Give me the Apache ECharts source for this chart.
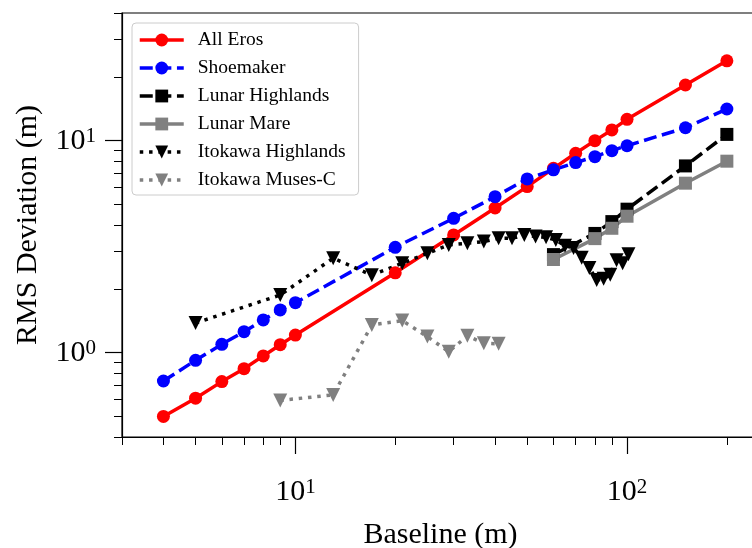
<!DOCTYPE html>
<html><head><meta charset="utf-8">
<script src="https://cdn.jsdelivr.net/npm/echarts@6/dist/echarts.min.js"></script>
<style>html,body{margin:0;padding:0;background:#fff}#c{width:752px;height:548px}</style>
</head><body><div id="c"></div>
<script>
// ---- data ----
const erosBaseline = [4,5,6,7,8,9,10,20,30,40,50,60,70,80,90,100,150,200];
const allEros   = [0.50,0.61,0.73,0.84,0.965,1.09,1.21,2.38,3.59,4.81,6.07,7.4,8.72,10.0,11.23,12.6,18.3,23.8];
const shoemaker = [0.735,0.92,1.095,1.256,1.426,1.59,1.72,3.14,4.30,5.44,6.6,7.28,7.88,8.4,8.97,9.46,11.5,14.1];
const lunarBaseline = [60,80,90,100,150,200];
const lunarHighlands = [2.9,3.65,4.15,4.75,7.6,10.7];
const lunarMare      = [2.75,3.45,3.86,4.4,6.3,8.0];
const itoHighBaseline = [5,9,13,17,21,25,29,33,37,41,45,49,53,57,61,65,69,73,77,81,85,89,93,97,101];
const itoHighlands = [1.38,1.87,2.79,2.32,2.64,2.94,3.22,3.28,3.34,3.46,3.46,3.59,3.53,3.5,3.40,3.19,3.12,2.80,2.51,2.20,2.23,2.33,2.73,2.64,2.91];
const itoMusesBaseline = [9,13,17,21,25,29,33,37,41];
const itoMuses = [0.595,0.632,1.35,1.416,1.19,1.01,1.2,1.107,1.10];
const xMajorTicks = [10,100];
const xMinorTicks = [3,4,5,6,7,8,9,20,30,40,50,60,70,80,90,200];
const yMajorTicks = [1,10];
const yMinorTicks = [0.4,0.5,0.6,0.7,0.8,0.9,2,3,4,5,6,7,8,9,20,30,40];

const FONT = '"Liberation Serif","Times New Roman",serif';
const pairs = (xs, ys) => xs.map((x, i) => [x, ys[i]]);
const sup = v => '{a|10}{s|' + Math.round(Math.log10(v)) + '}';
const rich = {
  a: {fontFamily: FONT, fontSize: 30, lineHeight: 30, color: '#000', verticalAlign: 'bottom', padding: [12,0,0,0]},
  s: {fontFamily: FONT, fontSize: 21, lineHeight: 21, color: '#000', verticalAlign: 'top'}
};
const LW = 3.5;
const DASH = [13, 5.6];
const DOT = [3.5, 5.8];

function axisPair(kind, min, max, major, minor, name, nameGap, labelMargin) {
  const base = {
    type: 'log', logBase: 10, min: min, max: max,
    splitLine: {show: false}, minorTick: {show: false}, minorSplitLine: {show: false}
  };
  if (kind === 'x') base.position = 'bottom'; else base.position = 'left';
  const mainAx = Object.assign({}, base, {
    name: name, nameLocation: 'middle', nameGap: nameGap,
    nameTextStyle: {fontFamily: FONT, fontSize: 30, color: '#000'},
    axisLine: {show: true, lineStyle: {color: '#000', width: 1.2}},
    axisTick: {show: true, inside: false, length: 17, customValues: major, lineStyle: {color: '#000', width: 1.2}},
    axisLabel: {show: true, customValues: major, margin: labelMargin, formatter: sup, rich: rich}
  });
  const minorAx = Object.assign({}, base, {
    axisLine: {show: false},
    axisTick: {show: true, inside: false, length: 8, customValues: minor, lineStyle: {color: '#000', width: 1}},
    axisLabel: {show: false}
  });
  return [mainAx, minorAx];
}

const chart = echarts.init(document.getElementById('c'), null, {renderer: 'canvas'});
const option = {
  animation: false,
  backgroundColor: '#fff',
  grid: {left: 122, top: 13, width: 637, height: 424, show: true, borderColor: '#000', borderWidth: 1.2,
         backgroundColor: 'transparent', containLabel: false, outerBoundsMode: 'none'},
  xAxis: axisPair('x', 3, 250, xMajorTicks, xMinorTicks, 'Baseline (m)', 83, 40),
  yAxis: axisPair('y', 0.4, 40, yMajorTicks, yMinorTicks, 'RMS Deviation (m)', 79, 26),
  legend: {
    left: 132, top: 23, orient: 'vertical',
    backgroundColor: '#fff', borderColor: '#ccc', borderWidth: 1, borderRadius: 4,
    padding: [7, 13, 5, 6], itemGap: 8, itemWidth: 44, itemHeight: 16,
    lineStyle: {width: 3.5},
    textStyle: {fontFamily: FONT, fontSize: 19.5, color: '#000', lineHeight: 19, padding: [0,0,0,9]},
    data: ['All Eros','Shoemaker','Lunar Highlands','Lunar Mare','Itokawa Highlands','Itokawa Muses-C']
  },
  series: [
    {name: 'All Eros', type: 'line', data: pairs(erosBaseline, allEros), symbol: 'circle', symbolSize: 13,
     lineStyle: {color: '#ff0000', width: LW}, itemStyle: {color: '#ff0000'}},
    {name: 'Shoemaker', type: 'line', data: pairs(erosBaseline, shoemaker), symbol: 'circle', symbolSize: 13,
     lineStyle: {color: '#0000ff', width: LW, type: DASH, cap: 'butt'}, itemStyle: {color: '#0000ff'}},
    {name: 'Lunar Highlands', type: 'line', data: pairs(lunarBaseline, lunarHighlands), symbol: 'rect', symbolSize: 13,
     lineStyle: {color: '#000000', width: LW, type: DASH, cap: 'butt'}, itemStyle: {color: '#000000'}},
    {name: 'Lunar Mare', type: 'line', data: pairs(lunarBaseline, lunarMare), symbol: 'rect', symbolSize: 13,
     lineStyle: {color: '#808080', width: LW}, itemStyle: {color: '#808080'}},
    {name: 'Itokawa Highlands', type: 'line', data: pairs(itoHighBaseline, itoHighlands), symbol: 'triangle', symbolRotate: 180, symbolSize: 14,
     lineStyle: {color: '#000000', width: LW, type: DOT, cap: 'butt'}, itemStyle: {color: '#000000'}},
    {name: 'Itokawa Muses-C', type: 'line', data: pairs(itoMusesBaseline, itoMuses), symbol: 'triangle', symbolRotate: 180, symbolSize: 14,
     lineStyle: {color: '#808080', width: LW, type: DOT, cap: 'butt'}, itemStyle: {color: '#808080'}}
  ]
};
option.series.forEach(s => { s.xAxisIndex = 0; s.yAxisIndex = 0; s.showAllSymbol = true; s.emphasis = {disabled: true}; });
chart.setOption(option);
</script>
</body></html>
